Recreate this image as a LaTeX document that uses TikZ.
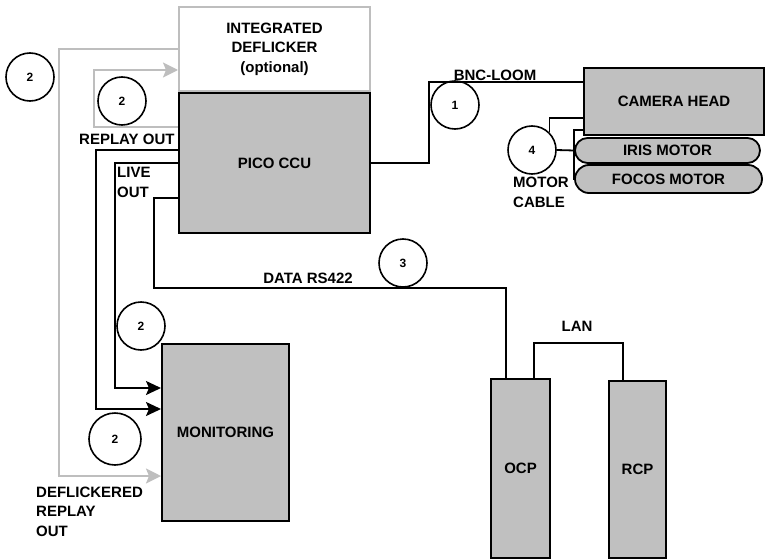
\documentclass[tikz,border=0pt]{standalone}
\usepackage{fontspec}
\setmainfont{Liberation Sans}
\usepackage{xcolor}
\usetikzlibrary{arrows.meta,shapes.misc}
\definecolor{boxgrey}{RGB}{192,192,192}
\definecolor{linegrey}{RGB}{190,190,190}
\tikzset{
    unitbox/.style={
        draw,
        line width=2pt,
        fill=boxgrey,
        inner sep=0pt,
        align=center,
        font=\fontsize{15}{19.5}\selectfont\bfseries
    },
    optbox/.style={
        unitbox,
        draw=linegrey,
        fill=white
    },
    motorbox/.style={
        unitbox,
        rounded rectangle,
        line width=1.8pt
    },
    tag/.style={
        draw,
        circle,
        line width=1.6pt,
        minimum size=48pt,
        inner sep=0pt,
        font=\fontsize{12}{14}\selectfont\bfseries
    },
    label/.style={
        inner sep=0pt,
        align=left,
        font=\fontsize{15}{19.5}\selectfont\bfseries
    },
    wire/.style={
        line width=1.8pt
    },
    thinwire/.style={
        line width=1.4pt
    },
    blackarrow/.style={
        wire,
        -{Stealth[length=15pt,width=14pt,inset=3pt]}
    },
    greyarrow/.style={
        wire,
        draw=linegrey,
        -{Stealth[length=15pt,width=15pt,inset=3pt]}
    }
}
\begin{document}
\begin{tikzpicture}[x=1pt,y=-1pt]
    \useasboundingbox (0,0) rectangle (767,559);

    % units
    \node[optbox, minimum width=191pt, minimum height=84pt] (deflicker)
        at (274.5,49) {INTEGRATED\\DEFLICKER\\(optional)};
    \node[unitbox, minimum width=191pt, minimum height=140pt] (ccu)
        at (274.5,163) {PICO CCU};
    \node[unitbox, minimum width=180pt, minimum height=67pt] (camhead)
        at (674,101.5) {CAMERA HEAD};
    \node[motorbox, minimum width=185pt, minimum height=25pt] (iris)
        at (667.5,150.5) {IRIS MOTOR};
    \node[motorbox, minimum width=187pt, minimum height=28pt] (focos)
        at (668.5,179) {FOCOS MOTOR};
    \node[unitbox, minimum width=127pt, minimum height=177pt] (monitor)
        at (225.5,432.5) {MONITORING};
    \node[unitbox, minimum width=59pt, minimum height=179pt] (ocp)
        at (520.5,468.5) {OCP};
    \node[unitbox, minimum width=57pt, minimum height=177pt] (rcp)
        at (637.5,469.5) {RCP};

    % cable tags
    \node[tag] (tagA) at (30,77) {2};
    \node[tag] (tagB) at (122,101) {2};
    \node[tag] (tagC) at (141,326) {2};
    \node[tag, minimum size=52pt] (tagD) at (115,439) {2};
    \node[tag] (tagbnc) at (455,105) {1};
    \node[tag] (tagdata) at (403,263) {3};
    \node[tag] (tagmotor) at (532,150) {4};

    % cable labels
    \node[label, anchor=west] (replaylbl) at (79,139) {REPLAY OUT};
    \node[label, anchor=west] (livelbl) at (117,182.5) {LIVE\\OUT};
    \node[label] (bnclbl) at (495,75) {BNC-LOOM};
    \node[label, anchor=west] (motorlbl) at (513,192.5) {MOTOR\\CABLE};
    \node[label] (datalbl) at (308,278) {DATA RS422};
    \node[label] (lanlbl) at (577,326) {LAN};
    \node[label, anchor=west] (deflbl) at (36,511.5)
        {DEFLICKERED\\REPLAY\\OUT};

    % video
    \draw[greyarrow] (deflicker.west) -| (59,476) -- (monitor.west |- 0,476);
    \draw[greyarrow] (ccu.west |- 0,127) -| (94,70) -- (deflicker.west |- 0,70);
    \draw[blackarrow] (ccu.west |- 0,150) -| (96,409) -- (monitor.west |- 0,409);
    \draw[blackarrow] (ccu.west |- 0,163) -| (115,388) -- (monitor.west |- 0,388);

    % control
    \draw[wire] (ccu.west |- 0,198) -| (154,288) -| (ocp.north -| 506,0);
    \draw[wire] (ocp.north -| 534,0) |- (623,343) -- (rcp.north -| 623,0);
    \draw[wire] (ccu.east) -| (429,82) -- (camhead.west |- 0,82);

    % lens motors
    \draw[wire] (camhead.west |- 0,118) -| (tagmotor.north east);
    \draw[wire] (tagmotor.east) -- (iris.west);
    \draw[thinwire] (camhead.west |- 0,130) -| (574,179) -- (focos.west);
\end{tikzpicture}
\end{document}
